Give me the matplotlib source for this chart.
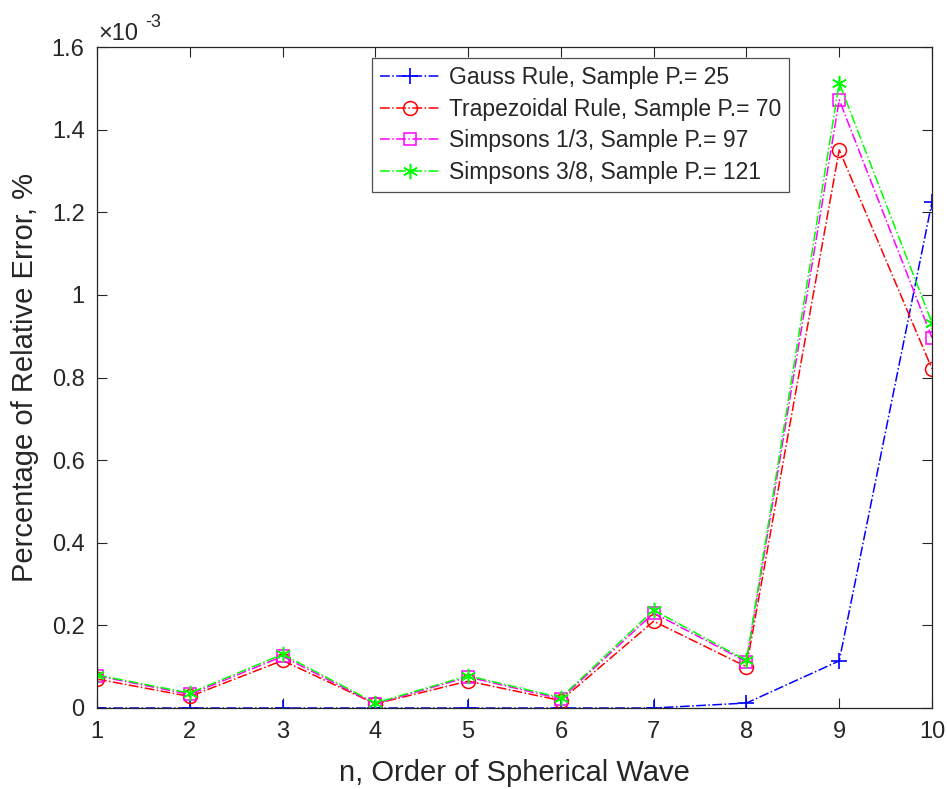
import matplotlib
matplotlib.use("Agg")
import matplotlib.pyplot as plt

plt.rcParams['font.family'] = ['Liberation Sans', 'DejaVu Sans']

n = [1, 2, 3, 4, 5, 6, 7, 8, 9, 10]
gauss = [0, 0, 0, 0, 0, 0, 0, 0.012, 0.114, 1.225]
trap = [0.070, 0.028, 0.115, 0.010, 0.065, 0.018, 0.210, 0.100, 1.351, 0.821]
simp13 = [0.078, 0.033, 0.125, 0.010, 0.075, 0.022, 0.230, 0.112, 1.472, 0.896]
simp38 = [0.080, 0.036, 0.130, 0.012, 0.078, 0.025, 0.237, 0.115, 1.513, 0.932]
labels = ["Gauss Rule, Sample P.= 25", "Trapezoidal Rule, Sample P.= 70",
          "Simpsons 1/3, Sample P.= 97", "Simpsons 3/8, Sample P.= 121"]
yticks = [0, 0.2, 0.4, 0.6, 0.8, 1.0, 1.2, 1.4, 1.6]
ytick_labels = ["0", "0.2", "0.4", "0.6", "0.8", "1", "1.2", "1.4", "1.6"]

W, H = 947, 789
fig = plt.figure(figsize=(W / 100, H / 100), dpi=100)
L, R, T, B = 97, 932, 47, 708
ax = fig.add_axes([L / W, 1 - B / H, (R - L) / W, (B - T) / H])

txt = '#262626'
ax.plot(n, gauss, '-.', color=(0, 0, 1), marker='+', ms=11, mew=1.2, lw=1.1, label=labels[0])
ax.plot(n, trap, '-.', color=(1, 0, 0), marker='o', ms=10, mfc='none', mew=1.1, lw=1.1, label=labels[1])
ax.plot(n, simp13, '-.', color=(1, 0, 1), marker='s', ms=8, mfc='none', mew=1.1, lw=1.1, label=labels[2])
ax.plot(n, simp38, '-.', color=(0, 1, 0), marker=(6, 2, 0), ms=11, mew=1.1, lw=1.1, label=labels[3])

ax.set_xlim(1, 10)
ax.set_ylim(0, 1.6)
ax.set_xticks(n)
ax.set_yticks(yticks)
ax.set_yticklabels(ytick_labels)
ax.tick_params(direction='in', top=True, right=True, labelsize=17, colors=txt,
               length=7, width=0.8)
ax.tick_params(axis='x', pad=9)
ax.tick_params(axis='y', pad=9)
for s in ax.spines.values():
    s.set_color(txt)
    s.set_linewidth(0.9)

fig.text(0.5 * (L + R) / W, 1 - 781 / H, "n, Order of Spherical Wave", fontsize=21,
         color=txt, ha='center', va='baseline')
fig.text(25 / W, 1 - (T + B) / 2 / H, "Percentage of Relative Error, %", fontsize=21,
         color=txt, ha='center', va='center', rotation=90)

fig.text(98 / W, 1 - 40 / H, "\u00d710", fontsize=17, color=txt, ha='left', va='baseline')
fig.text(145 / W, 1 - 27 / H, "-3", fontsize=13, color=txt, ha='left', va='baseline')

leg = ax.legend(loc='upper left', bbox_to_anchor=((372 - L) / (R - L), (B - 58) / (B - T)),
                fontsize=16.5, frameon=True, fancybox=False, edgecolor=txt,
                borderpad=0.35, labelspacing=0.38, handlelength=2.6, handletextpad=0.4,
                borderaxespad=0)
leg.get_frame().set_linewidth(0.9)
for t in leg.get_texts():
    t.set_color(txt)

fig.savefig("out.png", dpi=100)
